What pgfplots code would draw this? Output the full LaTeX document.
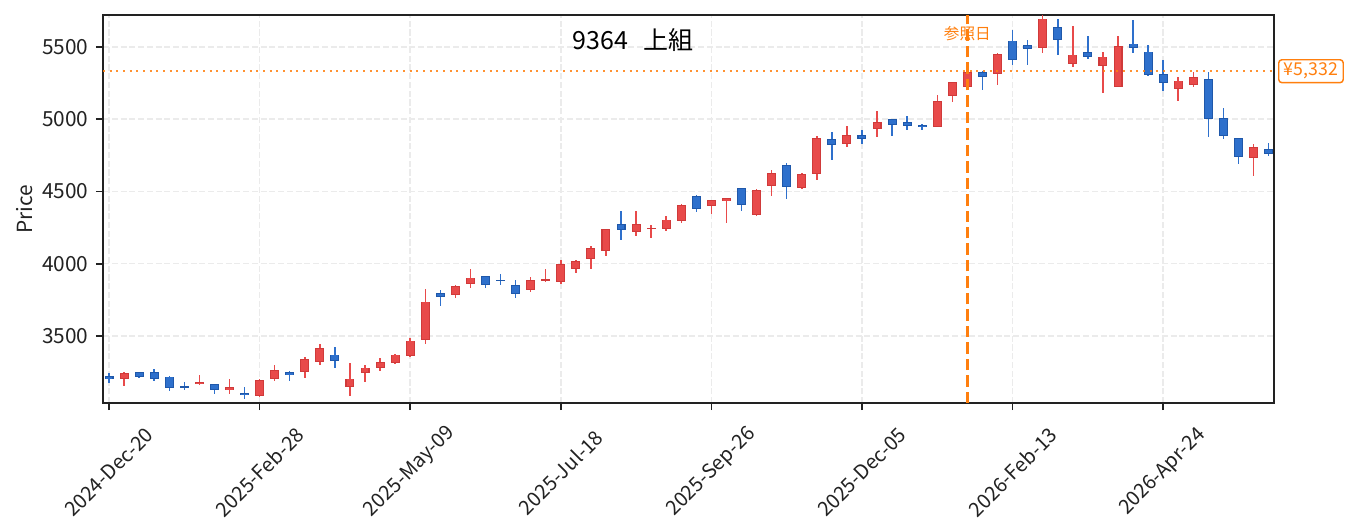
\documentclass[border=0pt]{standalone}
\usepackage{fontspec}
\setmainfont{Noto Sans CJK JP}
\usepackage{pgfplots}
\pgfplotsset{compat=1.18}
\usepackage{pgfplotstable}
\definecolor{upfill}{HTML}{E84A4A}
\definecolor{upedge}{HTML}{D03A3A}
\definecolor{dnfill}{HTML}{2E70CC}
\definecolor{dnedge}{HTML}{1F58AA}
\definecolor{refor}{HTML}{FF7F0E}
\definecolor{gridc}{HTML}{EBEBEB}
\definecolor{axc}{HTML}{222222}

% up candles (close >= open)
\pgfplotstableread{
x o h l c
1 3200 3253 3156 3242
6 3165 3230 3163 3179
8 3124 3202 3101 3145
10 3087 3200 3080 3193
11 3205 3299 3189 3262
13 3249 3352 3212 3343
14 3318 3445 3302 3419
16 3145 3311 3087 3205
17 3242 3297 3184 3281
18 3276 3345 3260 3322
19 3311 3373 3304 3371
20 3359 3484 3355 3468
21 3470 3825 3447 3738
23 3781 3853 3765 3844
24 3858 3964 3835 3904
28 3818 3906 3807 3885
29 3881 3964 3871 3892
30 3874 4026 3862 4000
31 3961 4023 3938 4021
32 4030 4123 3961 4111
33 4088 4243 4056 4240
35 4222 4363 4194 4277
36 4240 4266 4180 4250
37 4238 4330 4229 4305
38 4293 4411 4280 4404
40 4397 4441 4344 4439
41 4434 4455 4284 4453
43 4340 4517 4333 4510
44 4536 4649 4469 4626
46 4527 4628 4520 4619
47 4619 4884 4580 4868
49 4826 4953 4810 4889
51 4930 5057 4879 4979
55 4949 5168 4947 5124
56 5159 5258 5122 5255
57 5221 5371 5214 5329
59 5313 5461 5237 5451
62 5493 5720 5461 5696
64 5382 5645 5364 5447
66 5366 5465 5182 5433
67 5223 5576 5220 5509
71 5207 5290 5129 5267
72 5235 5325 5221 5290
76 4729 4829 4609 4806
}\up

% down candles (close < open)
\pgfplotstableread{
x o h l c
0 3225 3242 3173 3200
2 3249 3252 3212 3214
3 3249 3272 3189 3200
4 3219 3222 3122 3138
5 3152 3182 3129 3147
7 3165 3167 3101 3124
9 3103 3147 3064 3089
12 3249 3258 3189 3228
15 3371 3421 3281 3325
22 3795 3818 3710 3768
25 3913 3915 3835 3851
26 3888 3929 3855 3881
27 3855 3888 3765 3791
34 4277 4363 4167 4231
39 4467 4476 4360 4377
42 4522 4524 4367 4404
45 4681 4697 4448 4529
48 4861 4912 4718 4822
50 4889 4925 4831 4861
52 4999 5001 4886 4958
53 4979 5022 4925 4951
54 4962 4964 4925 4949
58 5329 5335 5202 5290
60 5544 5618 5375 5410
61 5511 5548 5375 5484
63 5636 5694 5447 5546
65 5463 5576 5419 5428
68 5523 5687 5461 5491
69 5468 5511 5304 5306
70 5315 5410 5198 5251
73 5276 5325 4875 4999
74 5006 5078 4866 4882
75 4868 4870 4688 4736
77 4792 4836 4748 4759
}\down

\pgfplotsset{
  wick/.style={draw=none, mark=none, forget plot,
    error bars/.cd, y dir=both, y explicit, error mark=none,
    error bar style={draw=#1, line width=0.72pt}},
  bodyout/.style={draw=none, mark=none, forget plot,
    error bars/.cd, y dir=both, y explicit, error mark=none,
    error bar style={draw=#1, line width=4.32pt}},
  bodyin/.style={draw=none, mark=none, forget plot,
    error bars/.cd, y dir=both, y explicit, error mark=none,
    error bar style={draw=#1, line width=3.3pt}},
}

\begin{document}
\begin{tikzpicture}
\path[use as bounding box] (-49.44pt,-61.44pt) rectangle (600pt,193.44pt);
\begin{axis}[
  at={(0pt,0pt)}, anchor=south west,
  scale only axis, width=562.08pt, height=186.24pt,
  xmin=-0.4, xmax=77.36, ymin=3036, ymax=5721,
  xtick={0,10,20,30,40,50,60,70},
  xticklabels={2024-Dec-20,2025-Feb-28,2025-May-09,2025-Jul-18,2025-Sep-26,2025-Dec-05,2026-Feb-13,2026-Apr-24},
  ytick={3500,4000,4500,5000,5500},
  /pgf/number format/1000 sep={},
  /pgf/number format/assume math mode=true,
  xtick pos=bottom, ytick pos=left,
  tick align=outside,
  major tick length=3.4pt,
  major tick style={line width=0.8pt, draw=axc},
  axis line style={line width=0.8pt, draw=axc},
  grid=major,
  major grid style={draw=gridc, line width=0.7pt, dash pattern=on 2.9pt off 1.3pt},
  tick label style={font=\fontsize{10}{12}\selectfont, text=axc},
  xticklabel style={font=\fontsize{9.6}{12}\selectfont, yshift=-29.8pt, rotate=45, anchor=center},
  ylabel={Price},
  ylabel style={font=\fontsize{10}{12}\selectfont, text=axc, at={(rel axis cs:-0.0674,0.5)}, anchor=center},
  clip=true,
]
% wicks
\addplot[wick=upfill] table[x=x, y=c, y error plus expr=\thisrow{h}-\thisrow{c}, y error minus expr=\thisrow{c}-\thisrow{l}] {\up};
\addplot[wick=dnfill] table[x=x, y=c, y error plus expr=\thisrow{h}-\thisrow{c}, y error minus expr=\thisrow{c}-\thisrow{l}] {\down};
% bodies
\addplot[bodyout=upedge] table[x=x, y expr=(\thisrow{o}+\thisrow{c})/2, y error expr={max(abs(\thisrow{c}-\thisrow{o})/2,3.5)}] {\up};
\addplot[bodyin=upfill] table[x=x, y expr=(\thisrow{o}+\thisrow{c})/2, y error expr={max(abs(\thisrow{c}-\thisrow{o})/2-6,0)}] {\up};
\addplot[bodyout=dnedge] table[x=x, y expr=(\thisrow{o}+\thisrow{c})/2, y error expr={max(abs(\thisrow{c}-\thisrow{o})/2,3.5)}] {\down};
\addplot[bodyin=dnfill] table[x=x, y expr=(\thisrow{o}+\thisrow{c})/2, y error expr={max(abs(\thisrow{c}-\thisrow{o})/2-6,0)}] {\down};
% reference lines
\addplot[refor, opacity=0.85, line width=0.9pt, dash pattern=on 0.9pt off 2.3pt, forget plot] coordinates {(-0.4,5332) (77.36,5332)};
\addplot[refor, line width=1.2pt, dash pattern=on 5.5pt off 2.4pt, forget plot] coordinates {(57,3036) (57,5721)};
% annotations
\node[font=\fontsize{7.5}{9}\selectfont, text=refor] at (axis cs:57,5590) {参照日};
\node[font=\fontsize{12}{14}\selectfont, text=black] at (axis cs:34.8,5548) {9364\hspace{0.6em}上組};
\end{axis}
\node[anchor=west, draw=refor, line width=0.7pt, rounded corners=1.5pt, fill=white, text=refor,
  font=\fontsize{8.5}{10}\selectfont, inner xsep=2.5pt, inner ysep=1.6pt]
  at (564pt,159.26pt) {¥5,332};
\end{tikzpicture}
\end{document}
